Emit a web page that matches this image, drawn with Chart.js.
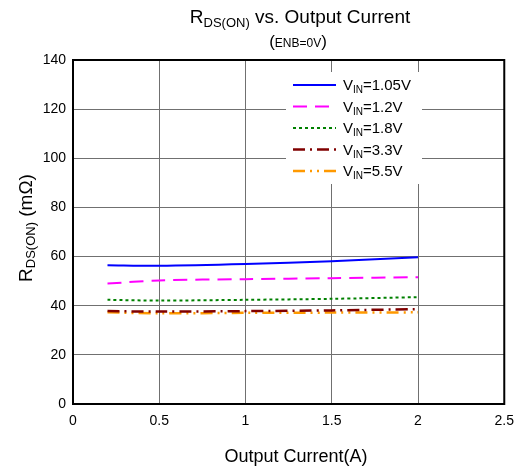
<!DOCTYPE html>
<html>
<head>
<meta charset="utf-8">
<script src="https://cdn.jsdelivr.net/npm/chart.js@4.4.1/dist/chart.umd.min.js"></script>
<style>
  html, body { margin: 0; padding: 0; background: #fff; }
  #wrap { width: 523px; height: 472px; }
</style>
</head>
<body>
<div id="wrap"><canvas id="grafica" width="523" height="472"></canvas></div>
<script>
// ===================== DATOS =====================
const corrientes = [0.2, 0.5, 1.0, 1.5, 2.0];
const vin105 = [56.5, 56.3, 57.0, 58.1, 59.7];
const vin12  = [49.0, 50.3, 50.8, 51.2, 51.6];
const vin18  = [42.4, 42.1, 42.4, 42.8, 43.5];
const vin33  = [37.8, 37.6, 37.8, 38.1, 38.6];
const vin55  = [37.3, 36.9, 37.1, 37.2, 37.3];
const etiquetasVin = ['1.05V', '1.2V', '1.8V', '3.3V', '5.5V'];
const ticksX = [0, 0.5, 1, 1.5, 2, 2.5];
const ticksY = [0, 20, 40, 60, 80, 100, 120, 140];

const FUENTE = '"Liberation Sans", Arial, sans-serif';

function serie(valores, color, dash, ancho){
  return {
    data: corrientes.map((x, i) => ({x: x, y: valores[i]})),
    borderColor: color,
    borderWidth: ancho,
    borderDash: dash,
    pointRadius: 0,
    tension: 0.3,
    fill: false
  };
}

// texto con subíndices: partes = [[texto, esSub], ...]
function textoRico(ctx, partes, x, y, tam, alinear, bajada){
  const tamSub = Math.round(tam * 0.68);
  const caida = bajada === undefined ? tam * 0.22 : bajada;
  let total = 0;
  partes.forEach(p => {
    ctx.font = (p[1] ? tamSub : tam) + 'px ' + FUENTE;
    total += ctx.measureText(p[0]).width;
  });
  let cx = alinear === 'center' ? x - total / 2 : x;
  ctx.textAlign = 'left';
  ctx.textBaseline = 'alphabetic';
  partes.forEach(p => {
    ctx.font = (p[1] ? tamSub : tam) + 'px ' + FUENTE;
    ctx.fillText(p[0], cx, y + (p[1] ? caida : 0));
    cx += ctx.measureText(p[0]).width;
  });
}

const pluginDecoracion = {
  id: 'decoracion',
  beforeDatasetsDraw(chart){
    const {ctx, chartArea: a} = chart;
    ctx.save();
    ctx.strokeStyle = '#000';
    ctx.lineWidth = 2;
    ctx.strokeRect(a.left, a.top, a.right - a.left, a.bottom - a.top);
    ctx.restore();
  },
  afterDatasetsDraw(chart){
    const {ctx} = chart;
    ctx.save();
    ctx.fillStyle = '#000';
    // títulos
    textoRico(ctx, [['R', false], ['DS(ON)', true], [' vs. Output Current', false]], 300, 23, 19, 'center');
    textoRico(ctx, [['(', false], ['ENB=0V', true], [')', false]], 298, 47, 17, 'center', 0);
    ctx.font = '18px ' + FUENTE;
    ctx.textAlign = 'center';
    ctx.fillText('Output Current(A)', 296, 462);
    ctx.save();
    ctx.translate(32, 228);
    ctx.rotate(-Math.PI / 2);
    textoRico(ctx, [['R', false], ['DS(ON)', true], [' (m\u03A9)', false]], 0, 0, 19, 'center', 3);
    ctx.restore();

    // leyenda
    ctx.fillStyle = '#fff';
    ctx.fillRect(286, 72, 136, 112);
    chart.data.datasets.forEach((ds, i) => {
      const y = 85 + i * 21.5;
      ctx.strokeStyle = ds.borderColor;
      ctx.lineWidth = ds.borderWidth;
      ctx.setLineDash(ds.borderDash);
      ctx.beginPath();
      ctx.moveTo(293, y);
      ctx.lineTo(336, y);
      ctx.stroke();
      ctx.setLineDash([]);
      ctx.fillStyle = '#000';
      textoRico(ctx, [['V', false], ['IN', true], ['=' + etiquetasVin[i], false]], 343, y + 5, 15, 'left');
    });
    ctx.restore();
  }
};

new Chart(document.getElementById('grafica'), {
  type: 'line',
  data: {
    datasets: [
      serie(vin105, '#0000ff', [], 2),
      serie(vin12, '#ff00ff', [14, 8], 2),
      serie(vin18, '#008000', [3, 3], 2),
      serie(vin33, '#800000', [12, 5, 2, 5], 2.5),
      serie(vin55, '#ff9900', [12, 5, 2, 5, 2, 5], 2.5)
    ]
  },
  options: {
    responsive: false,
    animation: false,
    layout: { padding: { top: 60, right: 16, left: 0, bottom: 0 } },
    plugins: { legend: { display: false }, tooltip: { enabled: false } },
    scales: {
      x: {
        type: 'linear', min: 0, max: 2.5,
        afterBuildTicks: s => { s.ticks = ticksX.map(v => ({value: v})); },
        afterFit: s => { s.height = 68; },
        grid: { color: '#707070', lineWidth: 1, drawTicks: false },
        border: { display: false },
        ticks: { color: '#000', font: { family: FUENTE, size: 14 }, padding: 9, callback: v => String(v) }
      },
      y: {
        min: 0, max: 140,
        afterBuildTicks: s => { s.ticks = ticksY.map(v => ({value: v})); },
        afterFit: s => { s.width = 73; },
        grid: { color: '#707070', lineWidth: 1, drawTicks: false },
        border: { display: false },
        ticks: { color: '#000', font: { family: FUENTE, size: 14 }, padding: 7, callback: v => String(v) }
      }
    }
  },
  plugins: [pluginDecoracion]
});
</script>
</body>
</html>
